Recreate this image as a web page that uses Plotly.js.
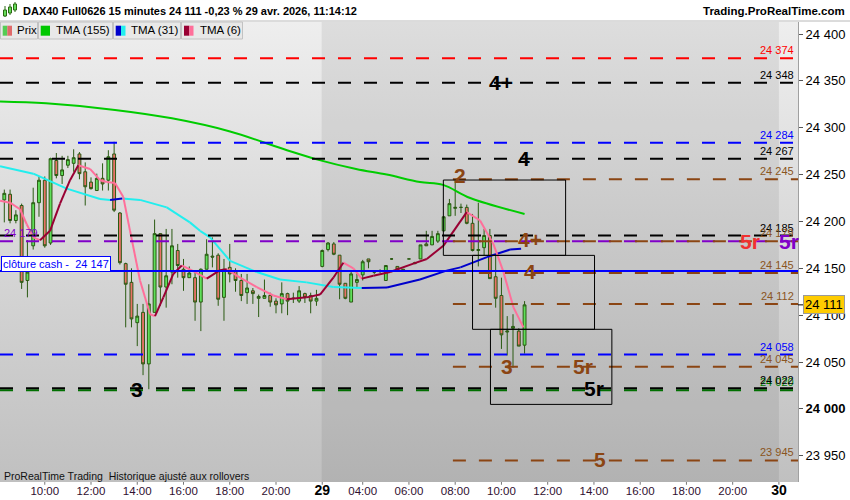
<!DOCTYPE html>
<html><head><meta charset="utf-8">
<script src="https://cdn.plot.ly/plotly-3.0.1.min.js"></script>
<style>
html,body{margin:0;padding:0;background:#fff;}
#wrap{position:relative;width:850px;height:500px;overflow:hidden;}
#bg{position:absolute;left:0;top:22px;width:798px;height:460px;background:linear-gradient(to bottom,#eeeeee 0%,#c0c0c0 100%);}
#chart{position:absolute;left:0;top:0;width:850px;height:500px;}
</style></head><body>
<div id="wrap"><div id="bg"></div><div id="chart"></div></div>
<script>
// ---------- DATA ----------
const opens = [24223,24229,24201,24217,24137,24174,24220,24244,24177,24265,
24249,24260,24262,24272,24253,24242,24233,24246,24244,24272,
24209,24155,24135,24092,24103,24048,24103,24187,24130,24146,
24169,24149,24140,24140,24114,24149,24163,24164,24119,24151,
24147,24137,24124,24126,24118,24118,24121,24115,24112,24123,
24118,24115,24123,24121,24115,24152,24170,24176,24164,24134,
24114,24135,24143,24160,24146,24147,24137,24160,24152,24149,
24160,24156,24160,24176,24175,24179,24190,24206,24214,24215,
24215,24198,24169,24172,24185,24141,24121,24082,24086,24083,
24068];
const highs = [24234,24234,24212,24219,24180,24236,24248,24248,24268,24273,
24270,24270,24277,24274,24263,24247,24251,24262,24276,24285,
24210,24156,24150,24112,24112,24133,24202,24187,24192,24192,
24176,24160,24152,24147,24150,24181,24183,24166,24160,24176,
24150,24144,24144,24129,24122,24138,24124,24118,24135,24124,
24124,24131,24124,24124,24127,24170,24178,24178,24164,24134,
24148,24144,24159,24160,24148,24149,24153,24161,24152,24149,
24160,24157,24175,24190,24190,24190,24205,24224,24244,24219,
24218,24208,24220,24192,24192,24165,24140,24099,24101,24086,
24115];
const lows = [24199,24198,24198,24128,24119,24170,24205,24172,24175,24246,
24240,24257,24253,24245,24217,24234,24233,24233,24233,24210,
24154,24087,24087,24067,24036,24021,24103,24110,24108,24133,
24140,24126,24140,24094,24083,24149,24151,24110,24094,24135,
24125,24115,24112,24112,24098,24118,24109,24102,24102,24100,
24113,24113,24113,24102,24110,24151,24168,24164,24117,24117,
24114,24130,24137,24150,24144,24145,24137,24159,24149,24148,
24160,24155,24160,24174,24175,24177,24189,24206,24206,24209,
24197,24168,24152,24164,24139,24108,24064,24057,24044,24067,
24059];
const closes = [24230,24201,24207,24135,24146,24220,24244,24174,24267,24249,
24255,24266,24268,24251,24237,24235,24246,24240,24269,24212,
24156,24133,24096,24099,24048,24112,24187,24130,24142,24174,
24153,24140,24145,24114,24149,24165,24162,24117,24149,24144,
24137,24121,24129,24123,24120,24121,24114,24111,24123,24115,
24118,24126,24119,24115,24118,24169,24177,24165,24133,24118,
24144,24138,24157,24157,24146,24147,24153,24160,24149,24148,
24160,24155,24175,24174,24184,24187,24205,24219,24215,24215,
24198,24169,24170,24185,24139,24118,24079,24083,24088,24067,
24111];

// moving averages (bar index, value)
const tma155X = [-0.74,7.21,19.15,29.0,39.05,48.9,54.2,60.85,66.16,71.9,75.9,80.6,90.0];
const tma155Y = [24328,24326,24319,24310,24296,24276,24266,24256,24250,24242,24239,24225,24208];
const tma31X = [-0.74,5.02,10.8,16.56,18.3,20.4,23.48,28.1,32.1,33.86,35.6,39.05,43.67,47.7,52.3,56.92,61.83,66.2,71.9,76.5,78.9,83.5,87.5,89.4];
const tma31Y = [24259,24251,24235,24224,24223,24224.5,24223,24215,24199,24190,24183,24158,24146,24138,24135,24130,24129,24129.5,24138,24147.5,24151,24162,24170,24171];
const tma6X = [-0.74,0.99,2.72,3.88,5.02,6.18,7.91,9.64,11.37,12.8,14.83,16.56,17.72,19.15,20.59,21.75,23.48,25.21,26.07,27.51,29.24,30.69,32.7,35.02,37.32,38.48,40.78,43.67,46.54,48.86,52.32,54.62,56.92,58.65,60.38,61.83,63.84,66.73,70.76,73.08,75.95,80.0,82.3,84.6,86.3,88.1,89.8];
const tma6Y = [24222,24220,24213,24197,24183,24180,24190,24219,24244,24260,24256,24244,24242,24241,24226,24190,24137,24101,24099,24119,24144,24153,24147,24139,24148,24149,24140,24130,24121,24117,24119,24122,24140,24156,24150,24139,24142,24146,24155,24160,24174,24210,24201,24176,24147,24108,24087];

// x-axis ticks (bar index) and labels
const tickIdx = [7,15,23,31,39,47,55,62,70,78,86,94,102,110,118,126,134];
const tickLabels = ['10:00','12:00','14:00','16:00','18:00','20:00','29','04:00','06:00','08:00','10:00','12:00','14:00','16:00','18:00','20:00','30'];
const yTicks = [23950,24000,24050,24100,24150,24200,24250,24300,24350,24400];

// horizontal levels
const fullLevels = [24374,24348,24284,24267,24185,24179,24058,24020,24022];
const fullKinds  = ['red','black','blue','black','black','purple','blue','green','black'];
const brownLevels = [24245,24179,24145,24112,24045,23945];
const cashLevel = 24147;
const rightLabelLevels = [24374,24348,24284,24267,24245,24185,24179,24145,24112,24058,24045,24020,24022,23945];
const rightLabelKinds  = ['red','black','blue','black','brown','black','brown','brown','brown','blue','brown','green','black','brown'];

// wave labels
const waveText = ['4+','4','2','4+','4','3','5r','5r','5','3','5r','5r'];
const waveIdx  = [86.0,89.9,78.8,91,91,86.9,100.1,102,103.1,23,129,135.8];
const wavePrice= [24348,24267,24249,24181,24146.4,24045,24045,24021.5,23946,24021,24178.5,24178.5];
const waveKind = ['black','black','brown','brown','brown','brown','brown','black','brown','black','red','purple'];

// projection boxes
const boxStart = [75.95,81.0,84.1];
const boxEnd   = [97.1,102.1,105.1];
const boxTop   = [24244.2,24163.8,24084.9];
const boxBot   = [24163.8,24084.9,24004.8];

const dayStarts = [54.9,134.0];
const brownStartIdx = 77.6;

// ---------- STYLE ----------
const FONT = 'Liberation Sans, Arial, sans-serif';
const lineCol = {red:'#ff0000',black:'#000000',blue:'#0000ff',purple:'#8000c8',green:'#007000',brown:'#8B4513'};
const textCol = {red:'#ff0000',black:'#000000',blue:'#0000ff',purple:'#8000c8',green:'#008000',brown:'#8a5522'};
const bigCol  = {red:'#f03030',black:'#000000',purple:'#8000c8',brown:'#8B4513'};
const X0 = -0.744, X1 = 137.3, Y0 = 23922, Y1 = 24412.8;
const fx = x => x/798;
const fy = y => (482 - y)/460;
const fmt = v => Math.floor(v/1000) + ' ' + String(Math.round(v%1000)).padStart(3,'0');

// ---------- TRACES ----------
const idx = opens.map((_, i) => i);
function split(xs, ys){
  const up={x:[],y:[]}, dn={x:[],y:[]};
  for(let i=0;i<xs.length-1;i++){
    const t = ys[i+1] >= ys[i] ? up : dn;
    t.x.push(xs[i], xs[i+1], null); t.y.push(ys[i], ys[i+1], null);
  }
  return {up, dn};
}
const s31 = split(tma31X, tma31Y), s6 = split(tma6X, tma6Y);
const ln = (d, c) => ({type:'scatter', mode:'lines', x:d.x, y:d.y, line:{color:c,width:2}, hoverinfo:'skip', showlegend:false, connectgaps:false});

const traces = [
  {type:'candlestick', x:idx, open:opens, high:highs, low:lows, close:closes,
   increasing:{line:{color:'#2a5a12',width:1}, fillcolor:'#5fe05a'},
   decreasing:{line:{color:'#2a5a12',width:1}, fillcolor:'#ea7268'},
   whiskerwidth:0, hoverinfo:'skip', showlegend:false},
  {type:'scatter', mode:'lines', x:tma155X, y:tma155Y, line:{color:'#00cc00',width:2, shape:'spline'}, hoverinfo:'skip', showlegend:false},
  ln(s31.dn,'#22eeee'), ln(s31.up,'#0000cc'),
  ln(s6.dn,'#ff6f9a'), ln(s6.up,'#990033')
];

// ---------- SHAPES ----------
const shapes = [];
shapes.push({type:'rect', xref:'x', yref:'paper', x0:dayStarts[0], x1:dayStarts[1], y0:0, y1:1, fillcolor:'rgba(0,0,0,0.07)', line:{width:0}, layer:'below'});
fullLevels.forEach((v,i)=>shapes.push({type:'line', xref:'x', yref:'y', x0:X0, x1:X1, y0:v, y1:v, line:{color:lineCol[fullKinds[i]], width:2, dash:'13px,13px'}}));
brownLevels.forEach(v=>shapes.push({type:'line', xref:'x', yref:'y', x0:brownStartIdx, x1:X1, y0:v, y1:v, line:{color:lineCol.brown, width:2, dash:'13px,13px'}}));
shapes.push({type:'line', xref:'x', yref:'y', x0:X0, x1:X1, y0:cashLevel, y1:cashLevel, line:{color:'#0000ff', width:2}});
boxStart.forEach((b,i)=>shapes.push({type:'rect', xref:'x', yref:'y', x0:b, x1:boxEnd[i], y0:boxBot[i], y1:boxTop[i], line:{color:'#000', width:1}, fillcolor:'rgba(0,0,0,0)'}));
shapes.push({type:'line', xref:'paper', yref:'paper', x0:fx(0), x1:fx(850), y0:fy(21), y1:fy(21), line:{color:'#b8b8b8', width:1}});
[[0,37],[38,112],[113,180],[181,242]].forEach(b=>shapes.push({type:'rect', xref:'paper', yref:'paper', x0:fx(b[0]+0.5), x1:fx(b[1]+0.5), y0:fy(39), y1:fy(22), fillcolor:'#e8e8e8', line:{color:'#c2c2c2', width:1}}));
const sw = (a,b,c)=>shapes.push({type:'rect', xref:'paper', yref:'paper', x0:fx(a), x1:fx(b), y0:fy(35.7), y1:fy(25.7), fillcolor:c, line:{width:0}});
sw(2.7,7.3,'#55cc55'); sw(7.3,12,'#e06a6a');
sw(40.7,50,'#00c800');
sw(115.7,121,'#0000cc'); sw(121,125.5,'#22eeee');
sw(184,189.3,'#990033'); sw(189.3,193.5,'#ff6f9a');
[[5,6,17,10,16],[10,4,15,7,13],[15,2,12,4,10]].forEach(c=>{
  shapes.push({type:'line', xref:'paper', yref:'paper', x0:fx(c[0]), x1:fx(c[0]), y0:fy(c[2]), y1:fy(c[1]), line:{color:'#2a6a12', width:1}});
  shapes.push({type:'rect', xref:'paper', yref:'paper', x0:fx(c[0]-1.5), x1:fx(c[0]+1.5), y0:fy(c[4]), y1:fy(c[3]), fillcolor:'#66dd5a', line:{color:'#2a6a12', width:1}});
});
shapes.push({type:'line', xref:'paper', yref:'y', x0:fx(798), x1:fx(804), y0:closes[closes.length-1], y1:closes[closes.length-1], line:{color:'#000', width:1}});
// small x tick marks under the plot
tickIdx.forEach(t=>shapes.push({type:'line', xref:'x', yref:'paper', x0:t, x1:t, y0:0, y1:-0.006, line:{color:'#777', width:1}}));

// ---------- ANNOTATIONS ----------
const ann = [];
ann.push({xref:'paper', yref:'paper', x:fx(21), y:fy(11), xanchor:'left', yanchor:'middle', showarrow:false,
  text:'<b>DAX40 Full0626 15 minutes 24 111 -0,23 % 29 avr. 2026, 11:14:12</b>', font:{family:FONT, size:11, color:'#000'}});
ann.push({xref:'paper', yref:'paper', x:fx(847), y:fy(11), xanchor:'right', yanchor:'middle', showarrow:false,
  text:'<b>Trading.ProRealTime.com</b>', font:{family:FONT, size:11.5, color:'#000'}});
[['Prix',15],['TMA (155)',54],['TMA (31)',129],['TMA (6)',197.5]].forEach(l=>ann.push({xref:'paper', yref:'paper', x:fx(l[1]), y:fy(30.5), xanchor:'left', yanchor:'middle', showarrow:false, text:l[0], font:{family:FONT, size:11.5, color:'#000'}}));
ann.push({xref:'paper', yref:'paper', x:fx(2), y:fy(476), xanchor:'left', yanchor:'middle', showarrow:false,
  text:'ProRealTime Trading  Historique ajusté aux rollovers', font:{family:FONT, size:10.5, color:'#111'}});
rightLabelLevels.forEach((v,i)=>ann.push({xref:'paper', yref:'y', x:fx(796), y:v, xanchor:'right', yanchor:'bottom', yshift:0, showarrow:false,
  text:fmt(v), font:{family:FONT, size:11, color:textCol[rightLabelKinds[i]]}}));
ann.push({xref:'paper', yref:'y', x:fx(2), y:fullLevels[5], xanchor:'left', yanchor:'bottom', yshift:0, showarrow:false,
  text:fmt(fullLevels[5]), font:{family:FONT, size:11, color:textCol.purple}});
ann.push({xref:'paper', yref:'y', x:fx(0.5), y:cashLevel, xanchor:'left', yanchor:'bottom', yshift:-1, showarrow:false,
  text:'clôture cash -  ' + fmt(cashLevel), font:{family:FONT, size:11, color:'#0000ff'}, bgcolor:'#ffffff', bordercolor:'#0000ff', borderwidth:1, borderpad:1});
waveText.forEach((t,i)=>ann.push({xref:'x', yref:'y', x:waveIdx[i], y:wavePrice[i], xanchor:'center', yanchor:'middle', showarrow:false,
  text:'<b>'+t+'</b>', font:{family:FONT, size:21, color:bigCol[waveKind[i]]}}));
ann.push({xref:'paper', yref:'y', x:fx(803), y:closes[closes.length-1], xanchor:'left', yanchor:'middle', showarrow:false,
  text:fmt(closes[closes.length-1]), font:{family:FONT, size:13, color:'#000'}, bgcolor:'#ffcc00', bordercolor:'#9a9a9a', borderwidth:1, borderpad:1});

const tickText = tickLabels.map(t => t.length <= 2 ? '<span style="font-size:14px;color:#000"><b>'+t+'</b></span>' : t);

const layout = {
  width:850, height:500, margin:{l:0, r:52, t:22, b:18, pad:0},
  paper_bgcolor:'rgba(0,0,0,0)', plot_bgcolor:'rgba(0,0,0,0)',
  showlegend:false, dragmode:false, hovermode:false,
  xaxis:{range:[X0,X1], tickvals:tickIdx, ticktext:tickText, ticks:'', 
    showgrid:false, zeroline:false, showline:false, rangeslider:{visible:false}, fixedrange:true,
    tickfont:{family:FONT, size:11.5, color:'#301030'}},
  yaxis:{side:'right', range:[Y0,Y1], tickvals:yTicks, ticktext:yTicks.map(v=> v===24000 ? '<b>'+fmt(v)+'</b>' : fmt(v)),
    ticks:'outside', ticklen:4, tickcolor:'#555', showgrid:false, zeroline:false, showline:true, linecolor:'#a0a0a0', linewidth:1,
    fixedrange:true, tickfont:{family:FONT, size:13, color:'#000'}},
  shapes:shapes, annotations:ann
};
Plotly.newPlot('chart', traces, layout, {staticPlot:true, displayModeBar:false});
</script>
</body></html>
